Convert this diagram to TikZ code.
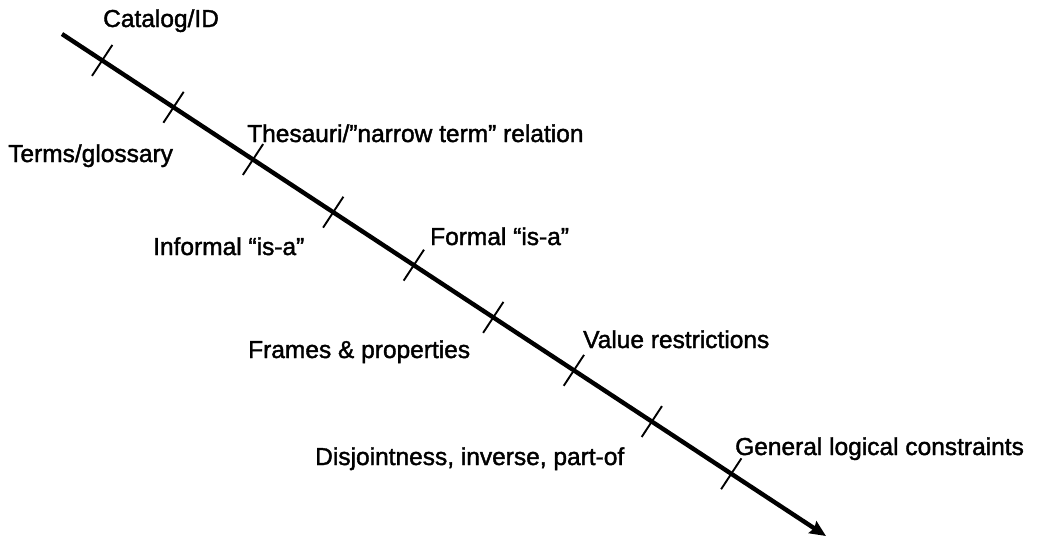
\documentclass[tikz,border=0pt]{standalone}
\usepackage{fontspec}
\setmainfont{Liberation Sans}[FakeBold=1.6]
\usetikzlibrary{calc,arrows.meta}
\begin{document}
\begin{tikzpicture}[x=1pt,y=-1pt,
  lbl/.style={anchor=base west,inner sep=0pt,font=\fontsize{24.5}{29}\selectfont},
  axis/.style={line width=4.4pt,-{Stealth[length=16pt,width=14pt,inset=2pt]}},
  tickmark/.style={line width=1.9pt}]
\useasboundingbox (0,0) rectangle (1040,539);
\coordinate (s) at (62,34);
\coordinate (e) at (826,536);
\draw[axis] (s) -- (e);
\foreach \f [count=\i] in {0.0526,0.146,0.25,0.355,0.4605,0.5645,0.67,0.772,0.876}{
  \coordinate (t\i) at ($(s)!\f!(e)$);
  \draw[tickmark] ($(t\i)!18.5pt!90:(e)$) -- ($(t\i)!18.5pt!-90:(e)$);
}
\node[lbl] (l1) at (103,27) {Catalog/ID};
\node[lbl] (l2) at (8,162) {Terms/glossary};
\node[lbl] (l3) at (247,142) {Thesauri/”narrow term” relation};
\node[lbl] (l4) at (153,255) {Informal “is-a”};
\node[lbl] (l5) at (430,245) {Formal “is-a”};
\node[lbl] (l6) at (248,358) {Frames \& properties};
\node[lbl] (l7) at (583,348) {Value restrictions};
\node[lbl] (l8) at (315,465) {Disjointness, inverse, part-of};
\node[lbl] (l9) at (735,455) {General logical constraints};
\end{tikzpicture}
\end{document}
